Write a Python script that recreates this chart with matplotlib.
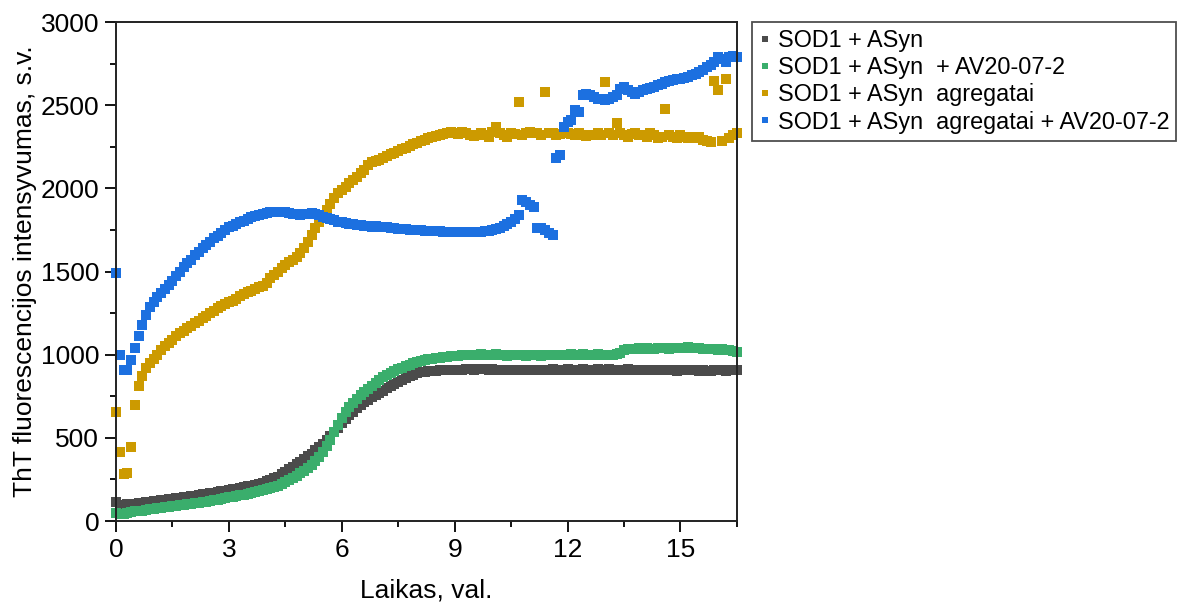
import numpy as np
import matplotlib
matplotlib.use("Agg")
import matplotlib.pyplot as plt
from matplotlib.ticker import MultipleLocator

plt.rcParams['font.family'] = ['Liberation Sans', 'DejaVu Sans']

# --- measurement times, hours (one reading every 6 min) ---
time_h = np.round(np.arange(0, 166) * 0.1, 1)

# --- ThT fluorescence, a.u. ---
sod1_asyn = [
    115, 95, 95, 100, 102, 105, 108, 110, 112, 115,
    118, 122, 125, 128, 132, 135, 138, 140, 143, 146,
    150, 153, 156, 160, 163, 166, 170, 175, 178, 182,
    186, 190, 194, 198, 203, 208, 213, 218, 224, 230,
    240, 248, 256, 266, 280, 295, 310, 325, 340, 355,
    370, 388, 405, 425, 445, 465, 488, 512, 538, 562,
    588, 612, 635, 658, 678, 697, 714, 730, 745, 758,
    770, 784, 797, 810, 823, 836, 848, 860, 870, 880,
    888, 893, 896, 899, 901, 903, 905, 906, 907, 908,
    908, 910, 910, 912, 912, 910, 912, 913, 912, 910,
    912, 910, 908, 910, 906, 908, 910, 908, 910, 906,
    908, 910, 906, 908, 910, 908, 912, 910, 908, 910,
    912, 910, 908, 910, 912, 906, 908, 910, 912, 908,
    910, 912, 908, 906, 910, 908, 912, 910, 908, 906,
    908, 910, 906, 908, 910, 908, 906, 910, 908, 904,
    906, 908, 910, 906, 908, 904, 906, 900, 904, 906,
    908, 906, 904, 906, 908, 910,
]

sod1_asyn_av = [
    50, 42, 45, 50, 55, 58, 60, 63, 66, 70,
    73, 76, 79, 82, 85, 88, 91, 94, 97, 100,
    103, 106, 110, 113, 116, 120, 124, 128, 132, 136,
    142, 146, 150, 154, 158, 163, 168, 173, 178, 184,
    190, 196, 203, 211, 220, 232, 245, 258, 272, 288,
    300, 318, 338, 360, 385, 412, 448, 490, 535, 580,
    620, 655, 685, 712, 735, 758, 776, 795, 812, 830,
    848, 863, 876, 888, 900, 912, 922, 932, 940, 948,
    956, 962, 967, 972, 976, 980, 983, 986, 988, 990,
    992, 994, 996, 998, 1000, 998, 1000, 1002, 1000, 998,
    1000, 1004, 1000, 998, 994, 996, 998, 1000, 996, 994,
    996, 998, 996, 994, 998, 1000, 998, 996, 998, 1000,
    1000, 1002, 998, 1000, 1002, 1000, 998, 1000, 1002, 998,
    1000, 996, 998, 1002, 1010, 1030, 1036, 1034, 1036, 1038,
    1036, 1038, 1034, 1036, 1040, 1042, 1038, 1036, 1040, 1038,
    1040, 1042, 1044, 1040, 1038, 1040, 1036, 1034, 1036, 1032,
    1030, 1032, 1028, 1026, 1020, 1015,
]

sod1_asyn_agg = [
    655, 415, 280, 290, 445, 700, 810, 870, 920, 950,
    975, 1000, 1030, 1050, 1070, 1090, 1110, 1130, 1145, 1160,
    1175, 1190, 1205, 1220, 1235, 1250, 1265, 1280, 1295, 1305,
    1315, 1325, 1335, 1350, 1365, 1375, 1385, 1395, 1405, 1410,
    1430, 1460, 1480, 1500, 1520, 1540, 1555, 1570, 1590, 1610,
    1640, 1680, 1720, 1760, 1800, 1830, 1870, 1905, 1940, 1970,
    1990, 2010, 2030, 2050, 2070, 2090, 2110, 2140, 2160, 2165,
    2170, 2185, 2195, 2205, 2215, 2225, 2235, 2245, 2255, 2265,
    2275, 2285, 2290, 2300, 2310, 2315, 2320, 2325, 2330, 2340,
    2330, 2325, 2340, 2330, 2320, 2315, 2320, 2330, 2320, 2310,
    2340, 2370, 2330, 2320, 2310, 2330, 2325, 2520, 2320, 2330,
    2340, 2335, 2330, 2320, 2580, 2330, 2330, 2320, 2325, 2330,
    2330, 2325, 2320, 2330, 2320, 2315, 2320, 2320, 2330, 2320,
    2640, 2330, 2320, 2390, 2330, 2320, 2310, 2325, 2330, 2320,
    2320, 2310, 2330, 2320, 2300, 2310, 2477, 2320, 2310, 2300,
    2320, 2310, 2300, 2310, 2300, 2310, 2290, 2285, 2280, 2646,
    2592, 2285, 2658, 2300, 2320, 2330,
]

sod1_asyn_agg_av = [
    1490, 1000, 905, 910, 965, 1040, 1110, 1180, 1240, 1285,
    1315, 1345, 1370, 1395, 1420, 1445, 1475, 1500, 1525, 1550,
    1570, 1600, 1620, 1640, 1660, 1680, 1700, 1715, 1730, 1750,
    1765, 1775, 1785, 1795, 1805, 1815, 1825, 1835, 1840, 1845,
    1850, 1855, 1858, 1860, 1858, 1855, 1850, 1848, 1845, 1842,
    1845, 1848, 1850, 1846, 1840, 1830, 1820, 1815, 1810, 1800,
    1795, 1790, 1788, 1785, 1782, 1778, 1776, 1772, 1770, 1772,
    1770, 1768, 1765, 1762, 1760, 1758, 1756, 1754, 1752, 1750,
    1750, 1748, 1746, 1746, 1745, 1744, 1742, 1740, 1740, 1740,
    1738, 1738, 1736, 1735, 1735, 1736, 1738, 1740, 1742, 1745,
    1750, 1755, 1762, 1772, 1785, 1800, 1815, 1840, 1930, 1920,
    1900, 1890, 1760, 1760, 1750, 1730, 1720, 2180, 2200, 2370,
    2400, 2410, 2470, 2460, 2560, 2570, 2560, 2550, 2540, 2535,
    2530, 2540, 2550, 2560, 2600, 2610, 2590, 2580, 2570, 2580,
    2590, 2600, 2605, 2610, 2620, 2630, 2640, 2645, 2650, 2655,
    2660, 2665, 2670, 2680, 2690, 2700, 2710, 2730, 2740, 2760,
    2790, 2780, 2760, 2790, 2795, 2790,
]

labels = [
    "SOD1 + ASyn",
    "SOD1 + ASyn  + AV20-07-2",
    "SOD1 + ASyn  agregatai",
    "SOD1 + ASyn  agregatai + AV20-07-2",
]
colors = ["#4b4b4b", "#3aae6c", "#cc9a00", "#1c70e0"]
series = [sod1_asyn, sod1_asyn_av, sod1_asyn_agg, sod1_asyn_agg_av]

fig = plt.figure(figsize=(11.81, 6.10), dpi=100)
ax = fig.add_axes([0.0982, 0.1459, 0.5258, 0.818])

for vals, col, lab in zip(series, colors, labels):
    ax.plot(time_h, vals, linestyle="none", marker="s", markersize=6.8,
            markeredgewidth=0, color=col, label=lab, clip_on=False)

ax.set_xlim(0, 16.5)
ax.set_ylim(0, 3000)
ax.xaxis.set_major_locator(MultipleLocator(3))
ax.xaxis.set_minor_locator(MultipleLocator(1.5))
ax.yaxis.set_major_locator(MultipleLocator(500))
ax.yaxis.set_minor_locator(MultipleLocator(250))
ax.tick_params(which="major", direction="out", length=8, width=1.3, labelsize=19, pad=4)
ax.tick_params(which="minor", direction="out", length=4.5, width=1.3)
for sp in ax.spines.values():
    sp.set_linewidth(1.4)
    sp.set_color("#222222")

ax.set_xlabel("Laikas, val.", fontsize=19, labelpad=12)
ax.set_ylabel("ThT fluorescencijos intensyvumas, s.v.", fontsize=19, labelpad=3)

leg = ax.legend(loc="upper left", bbox_to_anchor=(0.6368, 0.964), bbox_transform=fig.transFigure,
                fontsize=16.8, frameon=True, fancybox=False, edgecolor="#222222",
                handlelength=0.55, handletextpad=0.25, labelspacing=0.18, borderpad=0.3,
                markerscale=0.65, borderaxespad=0)
leg.get_frame().set_linewidth(1.3)

fig.savefig("out.png", dpi=100)
